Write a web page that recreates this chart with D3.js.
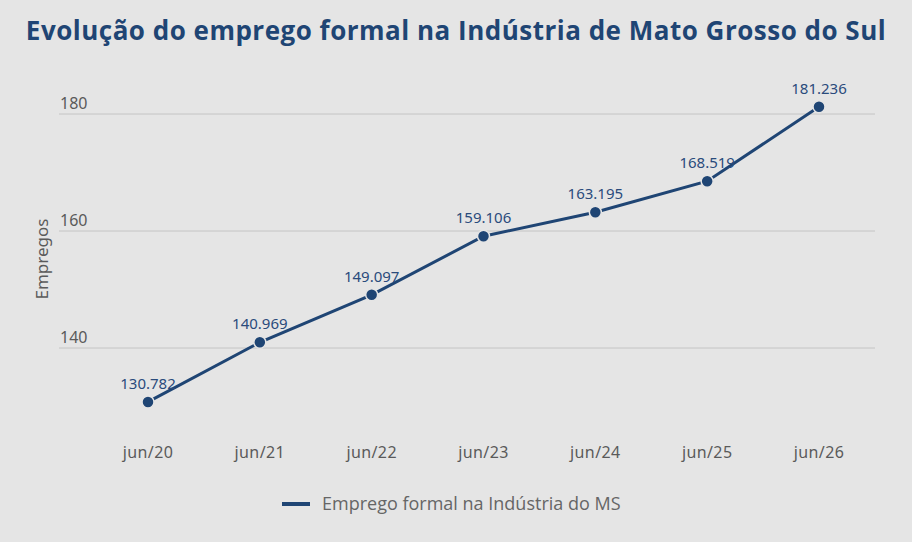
<!DOCTYPE html>
<html>
<head>
<meta charset="utf-8">
<script src="https://cdn.jsdelivr.net/npm/d3@7"></script>
<style>
  body { margin: 0; background: #e5e5e5; }
  svg { display: block; }
</style>
</head>
<body>
<svg id="chart" width="912" height="542"></svg>
<script>
// dados (mil empregos)
const categorias = ['jun/20', 'jun/21', 'jun/22', 'jun/23', 'jun/24', 'jun/25', 'jun/26'];
const empregos = [130.782, 140.969, 149.097, 159.106, 163.195, 168.519, 181.236];
const rotulos = ['130.782', '140.969', '149.097', '159.106', '163.195', '168.519', '181.236'];
const yTicks = [140, 160, 180];

const svg = d3.select('#chart');
const W = 912, H = 542;
const left = 59, right = 875;
const blue = '#1f4574';

svg.append('rect').attr('width', W).attr('height', H).attr('fill', '#e5e5e5');

// title
svg.append('text')
  .attr('x', W / 2).attr('y', 40)
  .attr('text-anchor', 'middle')
  .attr('font-family', 'Open Sans, sans-serif')
  .attr('font-weight', 700)
  .attr('font-size', 26)
  .attr('letter-spacing', 0.5)
  .attr('fill', blue)
  .text('Evolução do emprego formal na Indústria de Mato Grosso do Sul');

const x = d3.scalePoint().domain(categorias).range([148, 819]);
const y = d3.scaleLinear().domain([140, 180]).range([348, 114]);

// grid
const grid = svg.append('g');
grid.selectAll('line').data(yTicks).join('line')
  .attr('x1', left).attr('x2', right)
  .attr('y1', d => y(d)).attr('y2', d => y(d))
  .attr('stroke', '#c4c4c4').attr('stroke-width', 1);
grid.selectAll('text').data(yTicks).join('text')
  .attr('x', left + 1).attr('y', d => y(d) - 5)
  .attr('font-family', 'Noto Sans, sans-serif')
  .attr('font-size', 16)
  .attr('fill', '#5a5a5a')
  .text(d => d);

// y label
svg.append('text')
  .attr('transform', 'translate(48,259) rotate(-90)')
  .attr('text-anchor', 'middle')
  .attr('font-family', 'Noto Sans, sans-serif')
  .attr('font-size', 17)
  .attr('fill', '#5a5a5a')
  .text('Empregos');

// x labels
svg.append('g').selectAll('text').data(categorias).join('text')
  .attr('x', d => x(d)).attr('y', 458)
  .attr('text-anchor', 'middle')
  .attr('font-family', 'Noto Sans, sans-serif')
  .attr('font-size', 16)
  .attr('letter-spacing', 0.4)
  .attr('fill', '#5a5a5a')
  .text(d => d);

// line
const pts = categorias.map((c, i) => [x(c), y(empregos[i])]);
svg.append('path')
  .attr('d', d3.line()(pts))
  .attr('fill', 'none')
  .attr('stroke', blue)
  .attr('stroke-width', 3);

svg.append('g').selectAll('circle').data(pts).join('circle')
  .attr('cx', d => d[0]).attr('cy', d => d[1]).attr('r', 6)
  .attr('fill', blue).attr('stroke', '#e5e5e5').attr('stroke-width', 1.5);

svg.append('g').selectAll('text').data(pts).join('text')
  .attr('x', d => d[0]).attr('y', d => d[1] - 13)
  .attr('text-anchor', 'middle')
  .attr('font-family', 'Noto Sans, sans-serif')
  .attr('font-size', 15)
  .attr('fill', '#2a4b7c')
  .text((d, i) => rotulos[i]);

// legend
svg.append('line')
  .attr('x1', 282).attr('x2', 310).attr('y1', 504).attr('y2', 504)
  .attr('stroke', blue).attr('stroke-width', 4);
svg.append('text')
  .attr('x', 322).attr('y', 510)
  .attr('font-family', 'Open Sans, sans-serif')
  .attr('font-size', 18)
  .attr('fill', '#666')
  .text('Emprego formal na Indústria do MS');
</script>
</body>
</html>
